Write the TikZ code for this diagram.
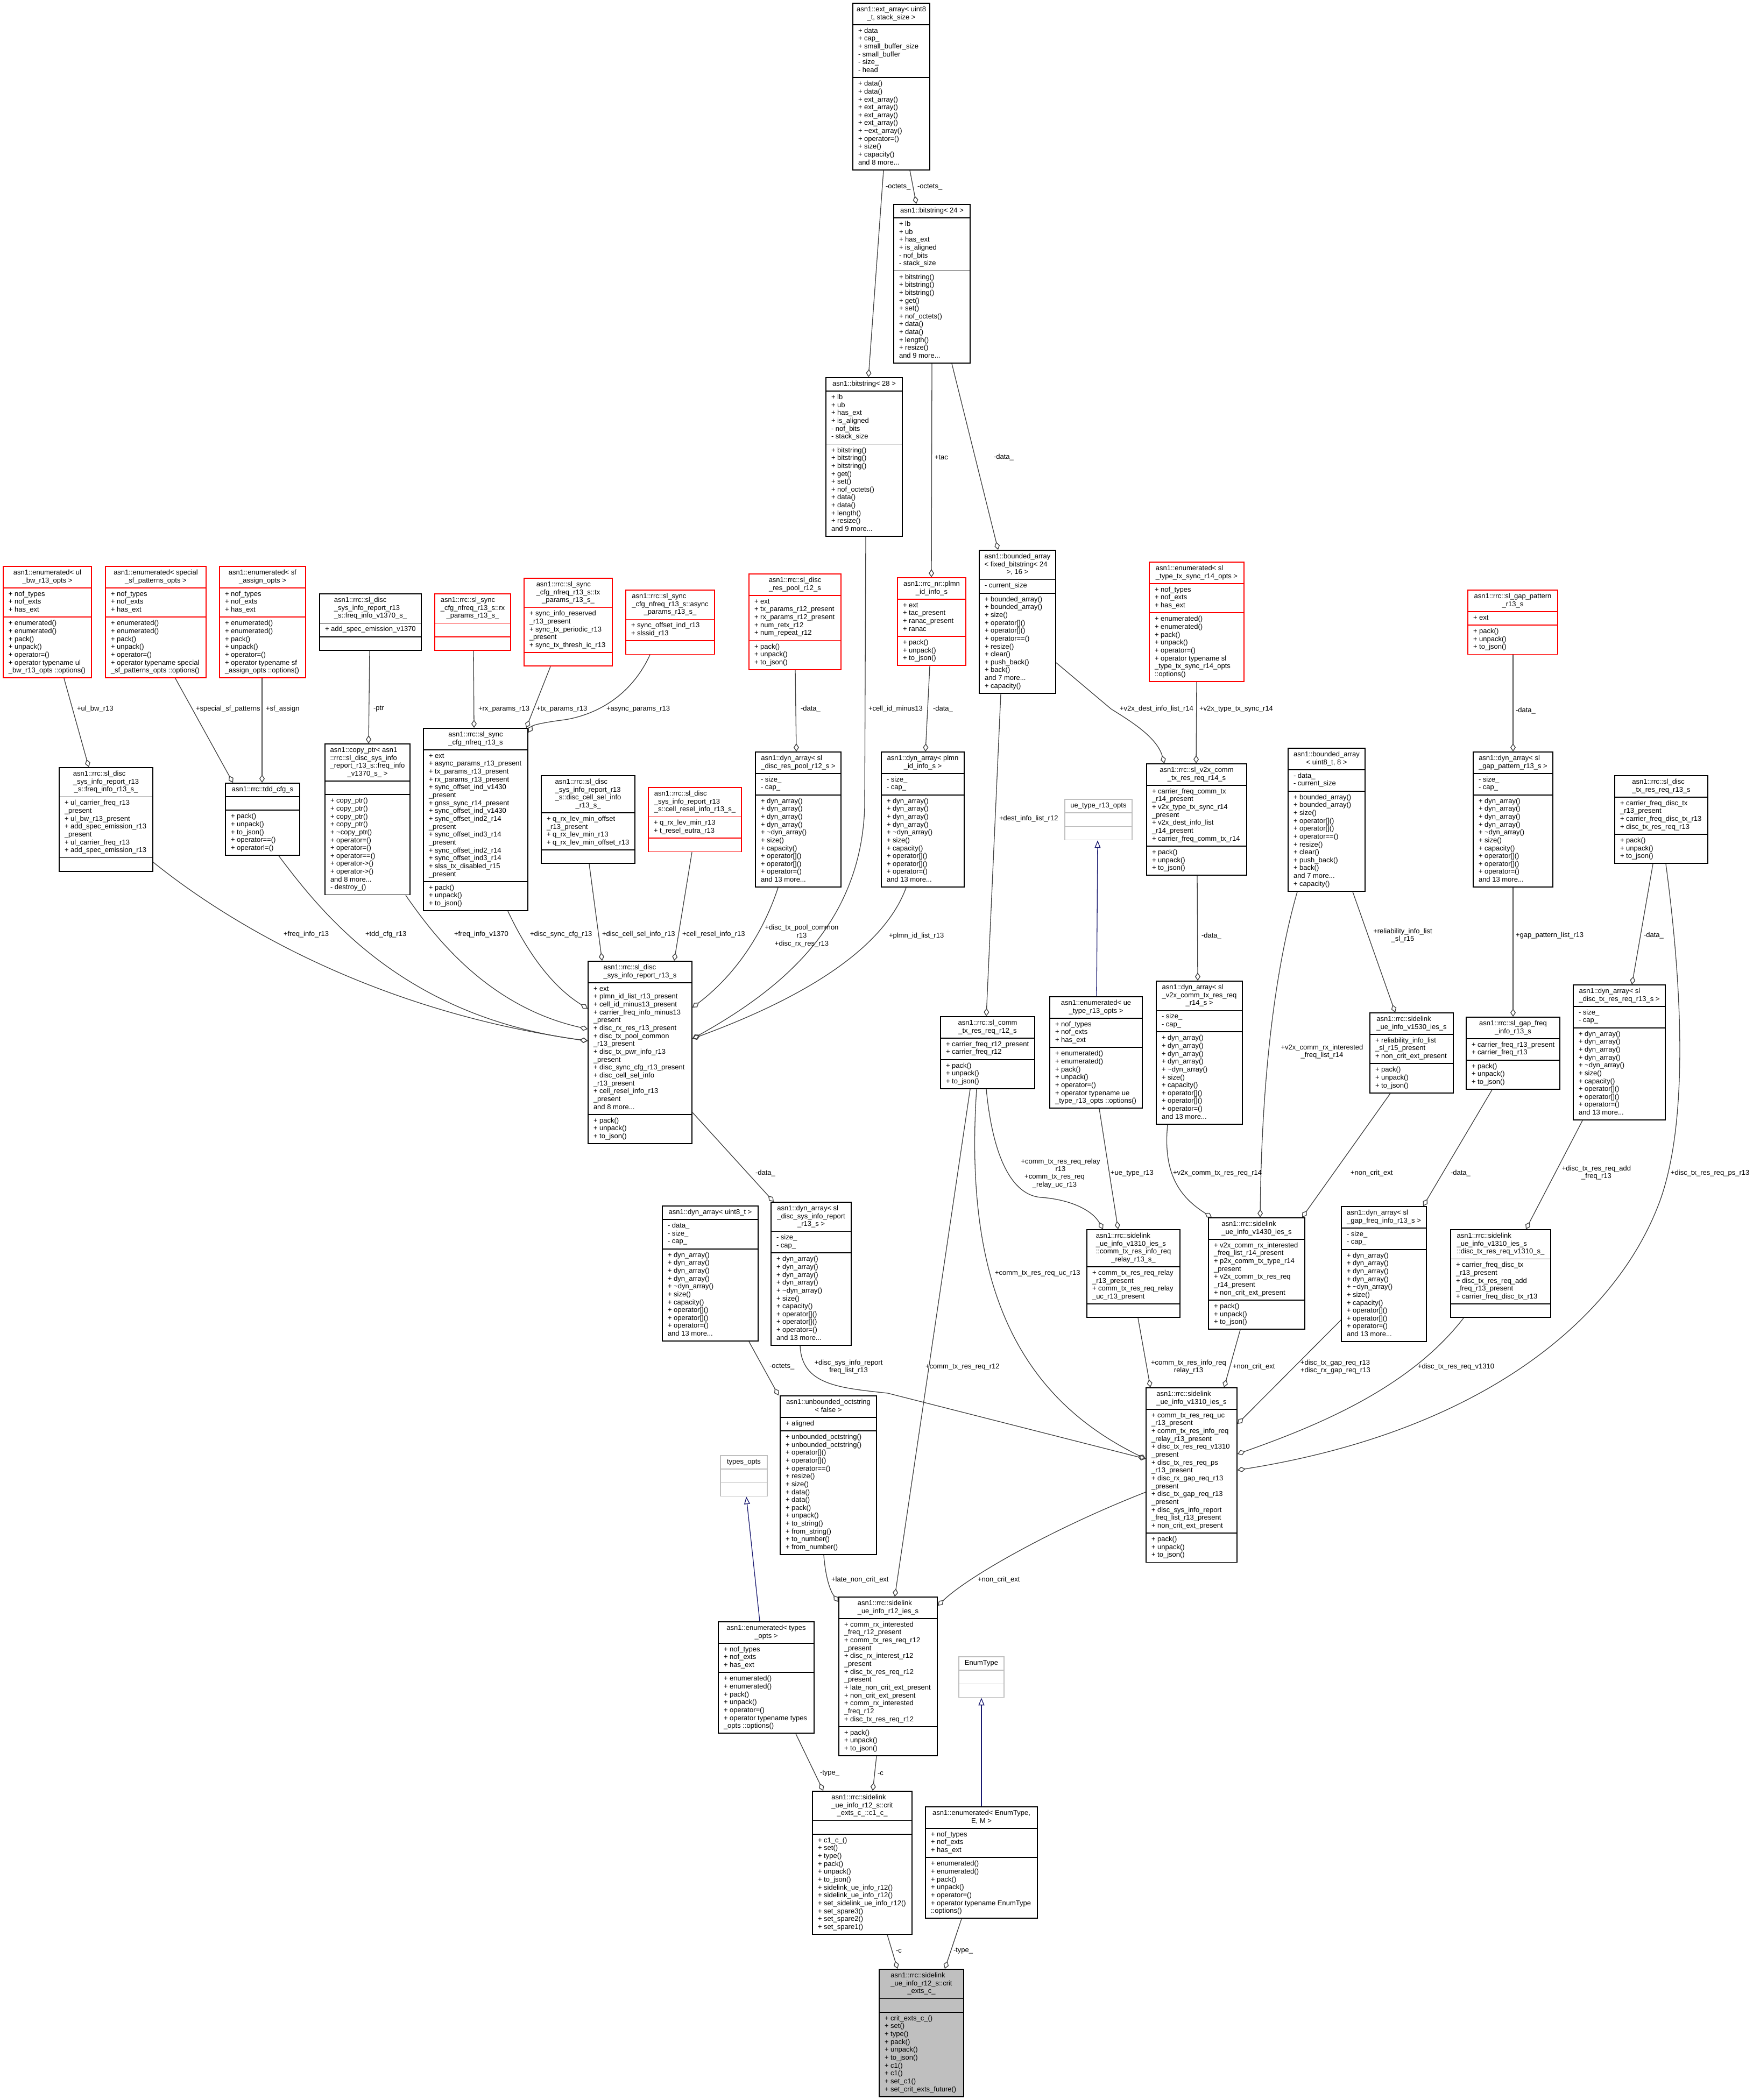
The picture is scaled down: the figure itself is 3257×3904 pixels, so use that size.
\documentclass[tikz,border=0pt]{standalone}
\usepackage{fontspec}
\setmainfont{Liberation Sans}
\usetikzlibrary{arrows.meta,calc,fit,backgrounds}
\definecolor{edgec}{HTML}{404040}
\definecolor{navyc}{HTML}{191970}
\definecolor{lgrey}{HTML}{BFBFBF}
\definecolor{boxgrey}{HTML}{BFBFBF}
\newcommand\ttR[1]{\strut#1\hfil\cr}
\newcommand\ttC[1]{\hfil\strut#1\hfil\cr}
\newcommand\ttblk[1]{\vbox{\halign{##\cr#1}}}
\newcommand\pkM{+ pack()\\+ unpack()\\+ to\_json()}
\newcommand\dynA{- size\_\\- cap\_}
\newcommand\dynM{+ dyn\_array()\\+ dyn\_array()\\+ dyn\_array()\\+ dyn\_array()\\+ \textasciitilde dyn\_array()\\+ size()\\+ capacity()\\+ operator[]()\\+ operator[]()\\+ operator=()\\and 13 more...}
\newcommand\enA{+ nof\_types\\+ nof\_exts\\+ has\_ext}
\newcommand\enM{+ enumerated()\\+ enumerated()\\+ pack()\\+ unpack()\\+ operator=()}
\newcommand\bsA{+ lb\\+ ub\\+ has\_ext\\+ is\_aligned\\- nof\_bits\\- stack\_size}
\newcommand\bsM{+ bitstring()\\+ bitstring()\\+ bitstring()\\+ get()\\+ set()\\+ nof\_octets()\\+ data()\\+ data()\\+ length()\\+ resize()\\and 9 more...}
\newcommand\baM{+ bounded\_array()\\+ bounded\_array()\\+ size()\\+ operator[]()\\+ operator[]()\\+ operator==()\\+ resize()\\+ clear()\\+ push\_back()\\+ back()\\and 7 more...\\+ capacity()}
% #1 style, #2 name, #3 x, #4 y, #5 width, #6 title rows, #7 attributes, #8 methods
\newcommand\umlbox[8]{%
  \pgfmathsetmacro\bxc{#3+#5/2}%
  \pgfmathsetmacro\bxw{#5/2}%
  \coordinate (#2-tl) at (#3,#4);
  \node[utxt,anchor=north] (#2-t) at (\bxc,#4+5.25) {\ttblk{#6}};
  \coordinate (#2-s1) at ($(#2-t.south)+(-\bxw,5.25)$);
  \node[utxt,align=left,anchor=north west] (#2-a) at ($(#2-s1)+(10,5.25)$) {\strut#7\strut};
  \coordinate (#2-s2) at ($(#2-a.south west)+(-10,5.25)$);
  \node[utxt,align=left,anchor=north west] (#2-m) at ($(#2-s2)+(10,5.25)$) {\strut#8\strut};
  \coordinate (#2-s3) at ($(#2-m.south west)+(-10,5.25)$);
  \coordinate (#2-br) at ($(#2-s3)+(#5,0)$);
  \begin{pgfonlayer}{background}
    \node[fit=(#2-tl)(#2-br),inner sep=0pt,#1] (#2) {};
  \end{pgfonlayer}
  \draw[#1] (#2-s1) -- ++(#5,0);
  \draw[#1] (#2-s2) -- ++(#5,0);
}
\begin{document}
\begin{tikzpicture}[x=1pt,y=-1pt,
  utxt/.style={inner sep=0pt,outer sep=0pt,font=\fontsize{13}{14.65}\selectfont},
  boxk/.style={draw=black,fill=white,line width=1.8pt},
  boxr/.style={draw=red,fill=white,line width=1.8pt},
  boxg/.style={draw=lgrey,fill=white,line width=1.6pt},
  boxf/.style={draw=black,fill=boxgrey,line width=1.8pt},
  edg/.style={draw=edgec,line width=1.3pt,-{Diamond[open,length=15pt,width=10pt]}},
  inh/.style={draw=navyc,line width=1.3pt,-{Triangle[open,length=14pt,width=11pt]}},
  lbl/.style={utxt,anchor=west},
  lblc/.style={utxt,align=center,anchor=center},
  lbll/.style={utxt,align=left,anchor=west}]
\useasboundingbox (0,0) rectangle (3257,3904);
\begin{pgfonlayer}{background}
  \fill[white] (0,0) rectangle (3257,3904);
\end{pgfonlayer}

% ---------------- boxes ----------------
\umlbox{boxk}{ea}{1585}{6}{143}{\ttR{asn1::ext\_array< uint8}\ttC{\_t, stack\_size >}}{+ data\\+ cap\_\\+ small\_buffer\_size\\- small\_buffer\\- size\_\\- head}{+ data()\\+ data()\\+ ext\_array()\\+ ext\_array()\\+ ext\_array()\\+ ext\_array()\\+ \textasciitilde ext\_array()\\+ operator=()\\+ size()\\+ capacity()\\and 8 more...}
\umlbox{boxk}{bs24}{1661}{380}{142}{\ttC{asn1::bitstring< 24 >}}{\bsA}{\bsM}
\umlbox{boxk}{bs28}{1535}{702}{142}{\ttC{asn1::bitstring< 28 >}}{\bsA}{\bsM}

\umlbox{boxr}{eul}{6}{1053}{164}{\ttR{asn1::enumerated< ul}\ttC{\_bw\_r13\_opts >}}{\enA}{\enM\\+ operator typename ul\\\_bw\_r13\_opts ::options()}
\umlbox{boxr}{esp}{196}{1053}{187}{\ttR{asn1::enumerated< special}\ttC{\_sf\_patterns\_opts >}}{\enA}{\enM\\+ operator typename special\\\_sf\_patterns\_opts ::options()}
\umlbox{boxr}{esa}{408}{1053}{160}{\ttR{asn1::enumerated< sf}\ttC{\_assign\_opts >}}{\enA}{\enM\\+ operator typename sf\\\_assign\_opts ::options()}
\umlbox{boxk}{fv1370}{594}{1104}{189}{\ttR{asn1::rrc::sl\_disc}\ttR{\_sys\_info\_report\_r13}\ttC{\_s::freq\_info\_v1370\_s\_}}{+ add\_spec\_emission\_v1370}{}
\umlbox{boxr}{rxp}{808}{1104}{141}{\ttR{asn1::rrc::sl\_sync}\ttR{\_cfg\_nfreq\_r13\_s::rx}\ttC{\_params\_r13\_s\_}}{}{}
\umlbox{boxr}{txp}{974}{1075}{164}{\ttR{asn1::rrc::sl\_sync}\ttR{\_cfg\_nfreq\_r13\_s::tx}\ttC{\_params\_r13\_s\_}}{+ sync\_info\_reserved\\\_r13\_present\\+ sync\_tx\_periodic\_r13\\\_present\\+ sync\_tx\_thresh\_ic\_r13}{}
\umlbox{boxr}{asp}{1163}{1097}{165}{\ttR{asn1::rrc::sl\_sync}\ttR{\_cfg\_nfreq\_r13\_s::async}\ttC{\_params\_r13\_s\_}}{+ sync\_offset\_ind\_r13\\+ slssid\_r13}{}
\umlbox{boxr}{drp}{1392}{1067}{171}{\ttR{asn1::rrc::sl\_disc}\ttC{\_res\_pool\_r12\_s}}{+ ext\\+ tx\_params\_r12\_present\\+ rx\_params\_r12\_present\\+ num\_retx\_r12\\+ num\_repeat\_r12}{\pkM}
\umlbox{boxr}{plmn}{1668}{1074}{127}{\ttR{asn1::rrc\_nr::plmn}\ttC{\_id\_info\_s}}{+ ext\\+ tac\_present\\+ ranac\_present\\+ ranac}{\pkM}
\umlbox{boxk}{bafix}{1820}{1023}{142}{\ttR{asn1::bounded\_array}\ttR{< fixed\_bitstring< 24}\ttC{>, 16 >}}{- current\_size}{\baM}
\umlbox{boxr}{estx}{2136}{1045}{176}{\ttR{asn1::enumerated< sl}\ttC{\_type\_tx\_sync\_r14\_opts >}}{\enA}{\enM\\+ operator typename sl\\\_type\_tx\_sync\_r14\_opts\\::options()}
\umlbox{boxr}{gappat}{2728}{1097}{167}{\ttR{asn1::rrc::sl\_gap\_pattern}\ttC{\_r13\_s}}{+ ext}{\pkM}

\umlbox{boxk}{fr13}{110}{1427}{174}{\ttR{asn1::rrc::sl\_disc}\ttR{\_sys\_info\_report\_r13}\ttC{\_s::freq\_info\_r13\_s\_}}{+ ul\_carrier\_freq\_r13\\\_present\\+ ul\_bw\_r13\_present\\+ add\_spec\_emission\_r13\\\_present\\+ ul\_carrier\_freq\_r13\\+ add\_spec\_emission\_r13}{}
\umlbox{boxk}{tdd}{419}{1456}{138}{\ttC{asn1::rrc::tdd\_cfg\_s}}{}{+ pack()\\+ unpack()\\+ to\_json()\\+ operator==()\\+ operator!=()}
\umlbox{boxk}{cptr}{604}{1383}{158}{\ttR{asn1::copy\_ptr< asn1}\ttR{::rrc::sl\_disc\_sys\_info}\ttR{\_report\_r13\_s::freq\_info}\ttC{\_v1370\_s\_ >}}{}{+ copy\_ptr()\\+ copy\_ptr()\\+ copy\_ptr()\\+ copy\_ptr()\\+ \textasciitilde copy\_ptr()\\+ operator=()\\+ operator=()\\+ operator==()\\+ operator->()\\+ operator->()\\and 8 more...\\- destroy\_()}
\umlbox{boxk}{sync}{787}{1354}{194}{\ttR{asn1::rrc::sl\_sync}\ttC{\_cfg\_nfreq\_r13\_s}}{+ ext\\+ async\_params\_r13\_present\\+ tx\_params\_r13\_present\\+ rx\_params\_r13\_present\\+ sync\_offset\_ind\_v1430\\\_present\\+ gnss\_sync\_r14\_present\\+ sync\_offset\_ind\_v1430\\+ sync\_offset\_ind2\_r14\\\_present\\+ sync\_offset\_ind3\_r14\\\_present\\+ sync\_offset\_ind2\_r14\\+ sync\_offset\_ind3\_r14\\+ slss\_tx\_disabled\_r15\\\_present}{\pkM}
\umlbox{boxk}{dcsi}{1006}{1442}{174}{\ttR{asn1::rrc::sl\_disc}\ttR{\_sys\_info\_report\_r13}\ttR{\_s::disc\_cell\_sel\_info}\ttC{\_r13\_s\_}}{+ q\_rx\_lev\_min\_offset\\\_r13\_present\\+ q\_rx\_lev\_min\_r13\\+ q\_rx\_lev\_min\_offset\_r13}{}
\umlbox{boxr}{crsi}{1205}{1464}{173}{\ttR{asn1::rrc::sl\_disc}\ttR{\_sys\_info\_report\_r13}\ttC{\_s::cell\_resel\_info\_r13\_s\_}}{+ q\_rx\_lev\_min\_r13\\+ t\_resel\_eutra\_r13}{}
\umlbox{boxk}{ddrp}{1404}{1398}{159}{\ttR{asn1::dyn\_array< sl}\ttC{\_disc\_res\_pool\_r12\_s >}}{\dynA}{\dynM}
\umlbox{boxk}{dplmn}{1638}{1398}{154}{\ttR{asn1::dyn\_array< plmn}\ttC{\_id\_info\_s >}}{\dynA}{\dynM}
\umlbox{boxg}{uet}{1979}{1486}{125}{\ttC{ue\_type\_r13\_opts}}{}{}
\umlbox{boxk}{v2x}{2131}{1420}{186}{\ttR{asn1::rrc::sl\_v2x\_comm}\ttC{\_tx\_res\_req\_r14\_s}}{+ carrier\_freq\_comm\_tx\\\_r14\_present\\+ v2x\_type\_tx\_sync\_r14\\\_present\\+ v2x\_dest\_info\_list\\\_r14\_present\\+ carrier\_freq\_comm\_tx\_r14}{\pkM}
\umlbox{boxk}{bau8}{2394}{1391}{143}{\ttR{asn1::bounded\_array}\ttC{< uint8\_t, 8 >}}{- data\_\\- current\_size}{\baM}
\umlbox{boxk}{dgp}{2738}{1398}{148}{\ttR{asn1::dyn\_array< sl}\ttC{\_gap\_pattern\_r13\_s >}}{\dynA}{\dynM}
\umlbox{boxk}{sdtx}{3001}{1442}{173}{\ttR{asn1::rrc::sl\_disc}\ttC{\_tx\_res\_req\_r13\_s}}{+ carrier\_freq\_disc\_tx\\\_r13\_present\\+ carrier\_freq\_disc\_tx\_r13\\+ disc\_tx\_res\_req\_r13}{\pkM}

\umlbox{boxk}{main}{1093}{1787}{193}{\ttR{asn1::rrc::sl\_disc}\ttC{\_sys\_info\_report\_r13\_s}}{+ ext\\+ plmn\_id\_list\_r13\_present\\+ cell\_id\_minus13\_present\\+ carrier\_freq\_info\_minus13\\\_present\\+ disc\_rx\_res\_r13\_present\\+ disc\_tx\_pool\_common\\\_r13\_present\\+ disc\_tx\_pwr\_info\_r13\\\_present\\+ disc\_sync\_cfg\_r13\_present\\+ disc\_cell\_sel\_info\\\_r13\_present\\+ cell\_resel\_info\_r13\\\_present\\and 8 more...}{\pkM}
\umlbox{boxk}{sct12}{1748}{1890}{175}{\ttR{asn1::rrc::sl\_comm}\ttC{\_tx\_res\_req\_r12\_s}}{+ carrier\_freq\_r12\_present\\+ carrier\_freq\_r12}{\pkM}
\umlbox{boxk}{eue}{1951}{1853}{172}{\ttR{asn1::enumerated< ue}\ttC{\_type\_r13\_opts >}}{\enA}{\enM\\+ operator typename ue\\\_type\_r13\_opts ::options()}
\umlbox{boxk}{dv2x}{2149}{1824}{160}{\ttR{asn1::dyn\_array< sl}\ttR{\_v2x\_comm\_tx\_res\_req}\ttC{\_r14\_s >}}{\dynA}{\dynM}
\umlbox{boxk}{v1530}{2546}{1883}{155}{\ttR{asn1::rrc::sidelink}\ttC{\_ue\_info\_v1530\_ies\_s}}{+ reliability\_info\_list\\\_sl\_r15\_present\\+ non\_crit\_ext\_present}{\pkM}
\umlbox{boxk}{gfi}{2725}{1891}{174}{\ttR{asn1::rrc::sl\_gap\_freq}\ttC{\_info\_r13\_s}}{+ carrier\_freq\_r13\_present\\+ carrier\_freq\_r13}{\pkM}
\umlbox{boxk}{ddtx}{2924}{1831}{171}{\ttR{asn1::dyn\_array< sl}\ttC{\_disc\_tx\_res\_req\_r13\_s >}}{\dynA}{\dynM}

\umlbox{boxk}{du8}{1231}{2242}{178}{\ttC{asn1::dyn\_array< uint8\_t >}}{- data\_\\- size\_\\- cap\_}{\dynM}
\umlbox{boxk}{ddsir}{1433}{2235}{149}{\ttR{asn1::dyn\_array< sl}\ttR{\_disc\_sys\_info\_report}\ttC{\_r13\_s >}}{\dynA}{\dynM}
\umlbox{boxk}{relay}{2020}{2286}{173}{\ttR{asn1::rrc::sidelink}\ttR{\_ue\_info\_v1310\_ies\_s}\ttR{::comm\_tx\_res\_info\_req}\ttC{\_relay\_r13\_s\_}}{+ comm\_tx\_res\_req\_relay\\\_r13\_present\\+ comm\_tx\_res\_req\_relay\\\_uc\_r13\_present}{}
\umlbox{boxk}{v1430}{2246}{2264}{179}{\ttR{asn1::rrc::sidelink}\ttC{\_ue\_info\_v1430\_ies\_s}}{+ v2x\_comm\_rx\_interested\\\_freq\_list\_r14\_present\\+ p2x\_comm\_tx\_type\_r14\\\_present\\+ v2x\_comm\_tx\_res\_req\\\_r14\_present\\+ non\_crit\_ext\_present}{\pkM}
\umlbox{boxk}{dgf}{2493}{2243}{158}{\ttR{asn1::dyn\_array< sl}\ttC{\_gap\_freq\_info\_r13\_s >}}{\dynA}{\dynM}
\umlbox{boxk}{v1310d}{2696}{2286}{186}{\ttR{asn1::rrc::sidelink}\ttR{\_ue\_info\_v1310\_ies\_s}\ttC{::disc\_tx\_res\_req\_v1310\_s\_}}{+ carrier\_freq\_disc\_tx\\\_r13\_present\\+ disc\_tx\_res\_req\_add\\\_freq\_r13\_present\\+ carrier\_freq\_disc\_tx\_r13}{}

\umlbox{boxk}{uoct}{1450}{2595}{179}{\ttR{asn1::unbounded\_octstring}\ttC{< false >}}{+ aligned}{+ unbounded\_octstring()\\+ unbounded\_octstring()\\+ operator[]()\\+ operator[]()\\+ operator==()\\+ resize()\\+ size()\\+ data()\\+ data()\\+ pack()\\+ unpack()\\+ to\_string()\\+ from\_string()\\+ to\_number()\\+ from\_number()}
\umlbox{boxg}{topts}{1339}{2706}{87}{\ttC{types\_opts}}{}{}
\umlbox{boxk}{v1310}{2130}{2580}{169}{\ttR{asn1::rrc::sidelink}\ttC{\_ue\_info\_v1310\_ies\_s}}{+ comm\_tx\_res\_req\_uc\\\_r13\_present\\+ comm\_tx\_res\_info\_req\\\_relay\_r13\_present\\+ disc\_tx\_res\_req\_v1310\\\_present\\+ disc\_tx\_res\_req\_ps\\\_r13\_present\\+ disc\_rx\_gap\_req\_r13\\\_present\\+ disc\_tx\_gap\_req\_r13\\\_present\\+ disc\_sys\_info\_report\\\_freq\_list\_r13\_present\\+ non\_crit\_ext\_present}{\pkM}
\umlbox{boxk}{r12}{1559}{2969}{183}{\ttR{asn1::rrc::sidelink}\ttC{\_ue\_info\_r12\_ies\_s}}{+ comm\_rx\_interested\\\_freq\_r12\_present\\+ comm\_tx\_res\_req\_r12\\\_present\\+ disc\_rx\_interest\_r12\\\_present\\+ disc\_tx\_res\_req\_r12\\\_present\\+ late\_non\_crit\_ext\_present\\+ non\_crit\_ext\_present\\+ comm\_rx\_interested\\\_freq\_r12\\+ disc\_tx\_res\_req\_r12}{\pkM}
\umlbox{boxk}{etypes}{1335}{3015}{178}{\ttR{asn1::enumerated< types}\ttC{\_opts >}}{\enA}{\enM\\+ operator typename types\\\_opts ::options()}
\umlbox{boxg}{enumt}{1782}{3080}{84}{\ttC{EnumType}}{}{}
\umlbox{boxk}{c1}{1510}{3330}{185}{\ttR{asn1::rrc::sidelink}\ttR{\_ue\_info\_r12\_s::crit}\ttC{\_exts\_c\_::c1\_c\_}}{}{+ c1\_c\_()\\+ set()\\+ type()\\+ pack()\\+ unpack()\\+ to\_json()\\+ sidelink\_ue\_info\_r12()\\+ sidelink\_ue\_info\_r12()\\+ set\_sidelink\_ue\_info\_r12()\\+ set\_spare3()\\+ set\_spare2()\\+ set\_spare1()}
\umlbox{boxk}{eem}{1720}{3359}{208}{\ttR{asn1::enumerated< EnumType,}\ttC{E, M >}}{\enA}{\enM\\+ operator typename EnumType\\::options()}
\umlbox{boxf}{crit}{1634}{3661}{157}{\ttR{asn1::rrc::sidelink}\ttR{\_ue\_info\_r12\_s::crit}\ttC{\_exts\_c\_}}{}{+ crit\_exts\_c\_()\\+ set()\\+ type()\\+ pack()\\+ unpack()\\+ to\_json()\\+ c1()\\+ c1()\\+ set\_c1()\\+ set\_crit\_exts\_future()}

% ---------------- connectors ----------------
\draw[edg] (ea.south -| 1642,0) -- (bs28.north -| 1614,0);
\draw[edg] (ea.south -| 1691,0) -- (bs24.north -| 1703,0);
\draw[edg] (bs24.south -| 1732,0) -- (plmn.north -| 1731,0);
\draw[edg] (bs24.south -| 1769,0) -- (bafix.north -| 1855,0);
\draw[edg] (bs28.south -| 1609,0) -- (1607,1500) .. controls (1600,1720) and (1450,1840) .. (main.east |- 0,1931);
\draw[edg] (ddrp.south -| 1446,0) .. controls (1420,1730) and (1370,1810) .. (main.east |- 0,1873);
\draw[edg] (dplmn.south -| 1684,0) .. controls (1640,1770) and (1480,1860) .. (main.east |- 0,1931);
\draw[edg] (drp.south -| 1478,0) -- (ddrp.north -| 1480,0);
\draw[edg] (plmn.south -| 1728,0) -- (dplmn.north -| 1720,0);
\draw[edg] (bafix.south -| 1860,0) -- (sct12.north -| 1833,0);
\draw[edg] (bafix.east |- 0,1232) -- (2065,1318) .. controls (2100,1340) and (2150,1370) .. (v2x.north -| 2164,0);
\draw[edg] (estx.south -| 2224,0) -- (v2x.north -| 2223,0);
\draw[edg] (v2x.south -| 2225,0) -- (dv2x.north -| 2226,0);
\draw[inh] (eue.north -| 2038,0) -- (uet.south -| 2040,0);
\draw[edg] (gappat.south -| 2812,0) -- (dgp.north -| 2812,0);
\draw[edg] (dgp.south -| 2812,0) -- (gfi.north -| 2812,0);
\draw[edg] (sdtx.south -| 3072,0) -- (ddtx.north -| 3033,0);
\draw[edg] (bau8.south -| 2514,0) -- (v1530.north -| 2593,0);
\draw[edg] (bau8.south -| 2411,0) .. controls (2370,1800) and (2345,2000) .. (v1430.north -| 2342,0);
\draw[edg] (dv2x.south -| 2170,0) .. controls (2160,2190) and (2200,2230) .. (v1430.north -| 2252,0);
\draw[edg] (v1530.south -| 2584,0) -- (v1430.north -| 2420,0);
\draw[edg] (sct12.south -| 1833,0) .. controls (1845,2150) and (1880,2222) .. (1935,2226) .. controls (1990,2230) and (2030,2250) .. (relay.north -| 2050,0);
\draw[edg] (eue.south -| 2043,0) -- (relay.north -| 2078,0);
\draw[edg] (sct12.south -| 1815,0) .. controls (1790,2400) and (1900,2600) .. (v1310.west |- 0,2712);
\draw[edg] (sct12.south -| 1803,0) -- (r12.north -| 1663,0);
\draw[edg] (relay.south -| 2115,0) -- (v1310.north -| 2138,0);
\draw[edg] (v1430.south -| 2305,0) -- (v1310.north -| 2275,0);
\draw[edg] (dgf.west |- 0,2454) -- (v1310.east |- 0,2647);
\draw[edg] (gfi.south -| 2773,0) -- (dgf.north -| 2645,0);
\draw[edg] (v1310d.south -| 2720,0) .. controls (2620,2580) and (2450,2650) .. (v1310.east |- 0,2703);
\draw[edg] (ddtx.south -| 2941,0) -- (v1310d.north -| 2836,0);
\draw[edg] (sdtx.south -| 3096,0) .. controls (3135,1900) and (3130,2120) .. (3081,2243) .. controls (3000,2450) and (2760,2660) .. (v1310.east |- 0,2733);
\draw[edg] (main.east |- 0,2068) -- (ddsir.north -| 1438,0);
\draw[edg] (ddsir.south -| 1487,0) .. controls (1490,2575) and (1560,2580) .. (1650,2590) -- (v1310.west |- 0,2712);
\draw[edg] (du8.south -| 1392,0) -- (uoct.north -| 1447,0);
\draw[edg] (uoct.south -| 1531,0) .. controls (1535,2940) and (1545,2960) .. (r12.west |- 0,2978);
\draw[edg] (v1310.west |- 0,2774) .. controls (1960,2840) and (1800,2930) .. (r12.east |- 0,2985);
\draw[inh] (etypes.north -| 1412,0) -- (topts.south -| 1387,0);
\draw[edg] (etypes.south -| 1479,0) -- (c1.north -| 1530,0);
\draw[edg] (r12.south -| 1629,0) -- (c1.north -| 1622,0);
\draw[edg] (c1.south -| 1649,0) -- (crit.north -| 1668,0);
\draw[edg] (eem.south -| 1787,0) -- (crit.north -| 1756,0);
\draw[inh] (eem.north -| 1824,0) -- (enumt.south -| 1824,0);
\draw[edg] (eul.south -| 119,0) -- (fr13.north -| 165,0);
\draw[edg] (esp.south -| 326,0) -- (tdd.north -| 433,0);
\draw[edg] (esa.south -| 487,0) -- (tdd.north -| 487,0);
\draw[edg] (fv1370.south -| 687,0) -- (cptr.north -| 685,0);
\draw[edg] (rxp.south -| 880,0) -- (sync.north -| 881,0);
\draw[edg] (txp.south -| 1023,0) -- (sync.north -| 978,0);
\draw[edg] (asp.south -| 1208,0) .. controls (1170,1300) and (1100,1330) .. (1050,1338) .. controls (1010,1343) and (990,1348) .. (sync.east |- 0,1362);
\draw[edg] (fr13.east |- 0,1603) .. controls (430,1720) and (700,1880) .. (main.west |- 0,1935);
\draw[edg] (tdd.south -| 518,0) .. controls (600,1700) and (750,1890) .. (main.west |- 0,1935);
\draw[edg] (cptr.south -| 754,0) .. controls (800,1730) and (900,1870) .. (main.west |- 0,1913);
\draw[edg] (sync.south -| 944,0) .. controls (975,1760) and (1020,1830) .. (main.west |- 0,1875);
\draw[edg] (dcsi.south -| 1095,0) -- (main.north -| 1119,0);
\draw[edg] (crsi.south -| 1286,0) -- (main.north -| 1253,0);

% ---------------- connector labels ----------------
\node[lbl] (l1) at (1646,348) {-octets\_};
\node[lbl] (l2) at (1705,348) {-octets\_};
\node[lbl] (l3) at (1737,850) {+tac};
\node[lbl] (l4) at (1847,850) {-data\_};
\node[lbl] (l5) at (1614,1318) {+cell\_id\_minus13};
\node[lbl] (l6) at (1488,1318) {-data\_};
\node[lbl] (l7) at (1734,1318) {-data\_};
\node[lbl] (l8) at (2081,1318) {+v2x\_dest\_info\_list\_r14};
\node[lbl] (l9) at (2229,1318) {+v2x\_type\_tx\_sync\_r14};
\node[lbl] (l10) at (1857,1522) {+dest\_info\_list\_r12};
\node[lbl] (l11) at (2233,1740) {-data\_};
\node[lbl] (l12) at (2817,1321) {-data\_};
\node[lbl] (l13) at (2817,1739) {+gap\_pattern\_list\_r13};
\node[lbl] (l14) at (3055,1739) {-data\_};
\node[lblc] (l15) at (2607,1739) {+reliability\_info\_list\\\_sl\_r15};
\node[lblc] (l16) at (2457,1955) {+v2x\_comm\_rx\_interested\\\_freq\_list\_r14};
\node[lbl] (l17) at (2180,2181) {+v2x\_comm\_tx\_res\_req\_r14};
\node[lbl] (l18) at (2510,2181) {+non\_crit\_ext};
\node[lbl] (l19) at (2064,2181) {+ue\_type\_r13};
\node[lblc] (l20) at (1971,2166) {+comm\_tx\_res\_req\_relay\\r13};
\node[lblc] (l21) at (1960,2196) {+comm\_tx\_res\_req\\\_relay\_uc\_r13};
\node[lbl] (l22) at (1849,2367) {+comm\_tx\_res\_req\_uc\_r13};
\node[lbl] (l23) at (1720,2541) {+comm\_tx\_res\_req\_r12};
\node[lblc] (l24) at (2209,2541) {+comm\_tx\_res\_info\_req\\relay\_r13};
\node[lbl] (l25) at (2291,2541) {+non\_crit\_ext};
\node[lbll] (l26) at (2417,2541) {+disc\_tx\_gap\_req\_r13\\+disc\_rx\_gap\_req\_r13};
\node[lbl] (l27) at (2696,2181) {-data\_};
\node[lbl] (l28) at (2635,2541) {+disc\_tx\_res\_req\_v1310};
\node[lblc] (l29) at (2967,2180) {+disc\_tx\_res\_req\_add\\\_freq\_r13};
\node[lbl] (l30) at (3105,2181) {+disc\_tx\_res\_req\_ps\_r13};
\node[lbl] (l31) at (1404,2181) {-data\_};
\node[lblc] (l32) at (1577,2541) {+disc\_sys\_info\_report\\freq\_list\_r13};
\node[lbl] (l33) at (1430,2541) {-octets\_};
\node[lbl] (l34) at (1545,2937) {+late\_non\_crit\_ext};
\node[lbl] (l35) at (1817,2937) {+non\_crit\_ext};
\node[lbl] (l36) at (1524,3297) {-type\_};
\node[lbl] (l37) at (1631,3297) {-c};
\node[lbl] (l38) at (1665,3627) {-c};
\node[lbl] (l39) at (1772,3627) {-type\_};
\node[lbl] (l40) at (143,1318) {+ul\_bw\_r13};
\node[lbl] (l41) at (364,1318) {+special\_sf\_patterns};
\node[lbl] (l42) at (494,1318) {+sf\_assign};
\node[lbl] (l43) at (694,1318) {-ptr};
\node[lbl] (l44) at (889,1318) {+rx\_params\_r13};
\node[lbl] (l45) at (997,1318) {+tx\_params\_r13};
\node[lbl] (l46) at (1127,1318) {+async\_params\_r13};
\node[lbl] (l47) at (527,1737) {+freq\_info\_r13};
\node[lbl] (l48) at (679,1737) {+tdd\_cfg\_r13};
\node[lbl] (l49) at (844,1737) {+freq\_info\_v1370};
\node[lbl] (l50) at (985,1737) {+disc\_sync\_cfg\_r13};
\node[lbl] (l51) at (1119,1737) {+disc\_cell\_sel\_info\_r13};
\node[lbl] (l52) at (1268,1737) {+cell\_resel\_info\_r13};
\node[lblc] (l53) at (1490,1740) {+disc\_tx\_pool\_common\\r13\\+disc\_rx\_res\_r13};
\node[lbl] (l54) at (1652,1740) {+plmn\_id\_list\_r13};
\end{tikzpicture}
\end{document}
